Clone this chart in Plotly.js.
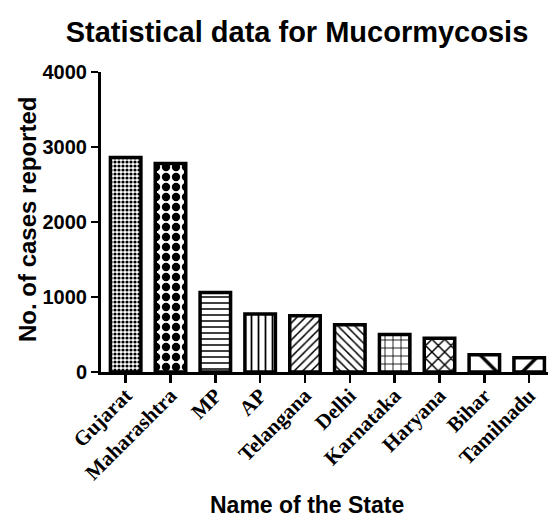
<!DOCTYPE html>
<html>
<head>
<meta charset="utf-8">
<script src="https://cdn.plot.ly/plotly-3.0.1.min.js"></script>
<style>html,body{margin:0;padding:0;background:#fff;}#chart{width:549px;height:520px;}</style>
</head>
<body>
<div id="chart"></div>
<script>
const states = ["Gujarat","Maharashtra","MP","AP","Telangana","Delhi","Karnataka","Haryana","Bihar","Tamilnadu"];
const cases = [2860, 2780, 1060, 775, 750, 630, 500, 450, 230, 190];
const yTicks = [0, 1000, 2000, 3000, 4000];
const patternShapes = [".", ".", "-", "|", "/", "\\", "+", "x", "\\", "/"];
const patternSizes = [4, 10, 6, 7, 6, 6, 8, 9, 34, 34];
const patternSolidity = [0.5, 0.55, 0.25, 0.25, 0.25, 0.25, 0.2, 0.3, 0.1, 0.1];

const trace = {
  type: "bar",
  x: states,
  y: cases,
  width: 0.68,
  marker: {
    color: "#ffffff",
    line: {color: "#000000", width: 3.5},
    pattern: {
      shape: patternShapes,
      size: patternSizes,
      solidity: patternSolidity,
      fgcolor: "#000000",
      bgcolor: "#ffffff",
      fgopacity: 1,
      fillmode: "replace"
    }
  },
  hoverinfo: "x+y"
};

const layout = {
  width: 549, height: 520,
  margin: {l: 101, r: 1, t: 72, b: 148},
  paper_bgcolor: "#ffffff",
  plot_bgcolor: "#ffffff",
  showlegend: false,
  title: {
    text: "<b>Statistical data for Mucormycosis</b>",
    font: {family: "Liberation Sans, Arial, sans-serif", size: 29, color: "#000"},
    x: 297/549, xanchor: "center", xref: "container",
    y: 1 - 32/520, yanchor: "middle", yref: "container"
  },
  xaxis: {
    type: "category",
    range: [-0.55, 9.42],
    showline: true, linecolor: "#000", linewidth: 3,
    ticks: "outside", ticklen: 8, tickwidth: 2.5, tickcolor: "#000",
    tickangle: -45,
    ticklabelstandoff: -8,
    tickfont: {family: "Liberation Serif, Times New Roman, serif", size: 21, color: "#000", weight: "bold"},
    showgrid: false, zeroline: false,
    fixedrange: true
  },
  yaxis: {
    range: [0, 4000],
    tickvals: yTicks,
    ticktext: yTicks.map(String),
    showline: true, linecolor: "#000", linewidth: 3,
    ticks: "outside", ticklen: 7, tickwidth: 2.5, tickcolor: "#000",
    tickfont: {family: "Liberation Sans, Arial, sans-serif", size: 20, color: "#000", weight: "bold"},
    showgrid: false, zeroline: false,
    fixedrange: true
  },
  annotations: [
    {
      text: "<b>Name of the State</b>",
      xref: "paper", yref: "paper",
      x: (307 - 101) / 447, y: -(505 - 372) / 300,
      xanchor: "center", yanchor: "middle", showarrow: false,
      font: {family: "Liberation Sans, Arial, sans-serif", size: 23, color: "#000"}
    },
    {
      text: "<b>No. of cases reported</b>",
      xref: "paper", yref: "paper",
      x: -(101 - 27) / 447, y: (372 - 220) / 300,
      xanchor: "center", yanchor: "middle", showarrow: false, textangle: -90,
      font: {family: "Liberation Sans, Arial, sans-serif", size: 24, color: "#000"}
    }
  ]
};

Plotly.newPlot("chart", [trace], layout, {displayModeBar: false, staticPlot: true});
</script>
</body>
</html>
